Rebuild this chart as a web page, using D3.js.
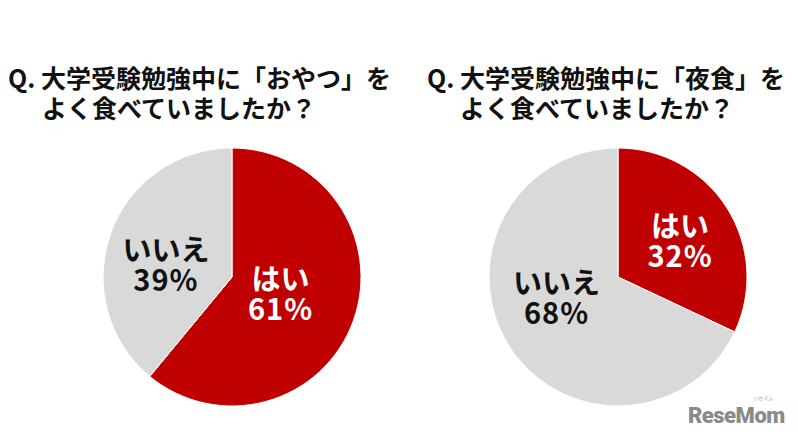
<!DOCTYPE html>
<html><head><meta charset="utf-8">
<script src="https://cdn.jsdelivr.net/npm/d3@7"></script>
<style>
html,body{margin:0;padding:0;background:#fff;}
svg{display:block;font-family:"Noto Sans CJK JP","Noto Sans",sans-serif;}
</style></head>
<body>
<svg id="c" width="798" height="434"></svg>
<script>
// Data
const categories = ["はい", "いいえ"];
const snackValues = [61, 39];      // 「おやつ」
const nightMealValues = [32, 68];  // 「夜食」
const titles1 = ["Q. 大学受験勉強中に「おやつ」を", "よく食べていましたか？"];
const titles2 = ["Q. 大学受験勉強中に「夜食」を", "よく食べていましたか？"];

const svg = d3.select("#c");
const color = d3.scaleOrdinal().domain(categories).range(["#C00000", "#D9D9D9"]);
const textColor = d3.scaleOrdinal().domain(categories).range(["#ffffff", "#111111"]);

const charts = [
  {values: snackValues, titles: titles1, cx: 232, cy: 277, r: 129, tx: [8, 42],
   lf: [0.40, 0.52], nudge: [[0,0],[-3,11]]},
  {values: nightMealValues, titles: titles2, cx: 618, cy: 277, r: 129, tx: [427, 460],
   lf: [0.56, 0.5], nudge: [[1,3],[-7,-14]]}
];

const pie = d3.pie().sort(null).value(d => d.v);

charts.forEach(ch => {
  const data = categories.map((c, i) => ({c, v: ch.values[i]}));
  const arcs = pie(data);
  const g = svg.append("g").attr("transform", `translate(${ch.cx},${ch.cy})`);
  const arc = d3.arc().innerRadius(0).outerRadius(ch.r);
  g.selectAll("path").data(arcs).join("path")
    .attr("d", arc)
    .attr("fill", d => color(d.data.c))
    .attr("stroke", "#fff").attr("stroke-width", 1);

  arcs.forEach((a, i) => {
    const la = d3.arc().innerRadius(ch.r * ch.lf[i]).outerRadius(ch.r * ch.lf[i]);
    const [x, y] = la.centroid(a);
    const px = x + ch.nudge[i][0], py = y + ch.nudge[i][1];
    const t = g.append("text").attr("text-anchor", "middle")
      .attr("font-weight", "bold").attr("font-size", 29)
      .attr("fill", textColor(a.data.c));
    t.append("tspan").attr("x", px).attr("y", py - 4).text(a.data.c);
    t.append("tspan").attr("x", px).attr("y", py + 26).attr("letter-spacing", 1).text(a.data.v + "%");
  });

  ch.titles.forEach((s, i) => {
    svg.append("text").attr("x", ch.tx[i]).attr("y", 88 + i * 30)
      .attr("font-size", 25).attr("font-weight", "bold").attr("fill", "#111")
      .text(s);
  });
});

// watermark
svg.append("text").attr("x", 688).attr("y", 423).attr("font-family", "Roboto, sans-serif")
  .attr("font-weight", "900").attr("font-size", 22).attr("fill", "#8a8a8a").attr("letter-spacing", -0.5)
  .text("ReseMom");
svg.append("text").attr("x", 763).attr("y", 400).attr("font-size", 5).attr("fill", "#999")
  .attr("text-anchor", "middle").text("リセマム");
</script>
</body></html>
